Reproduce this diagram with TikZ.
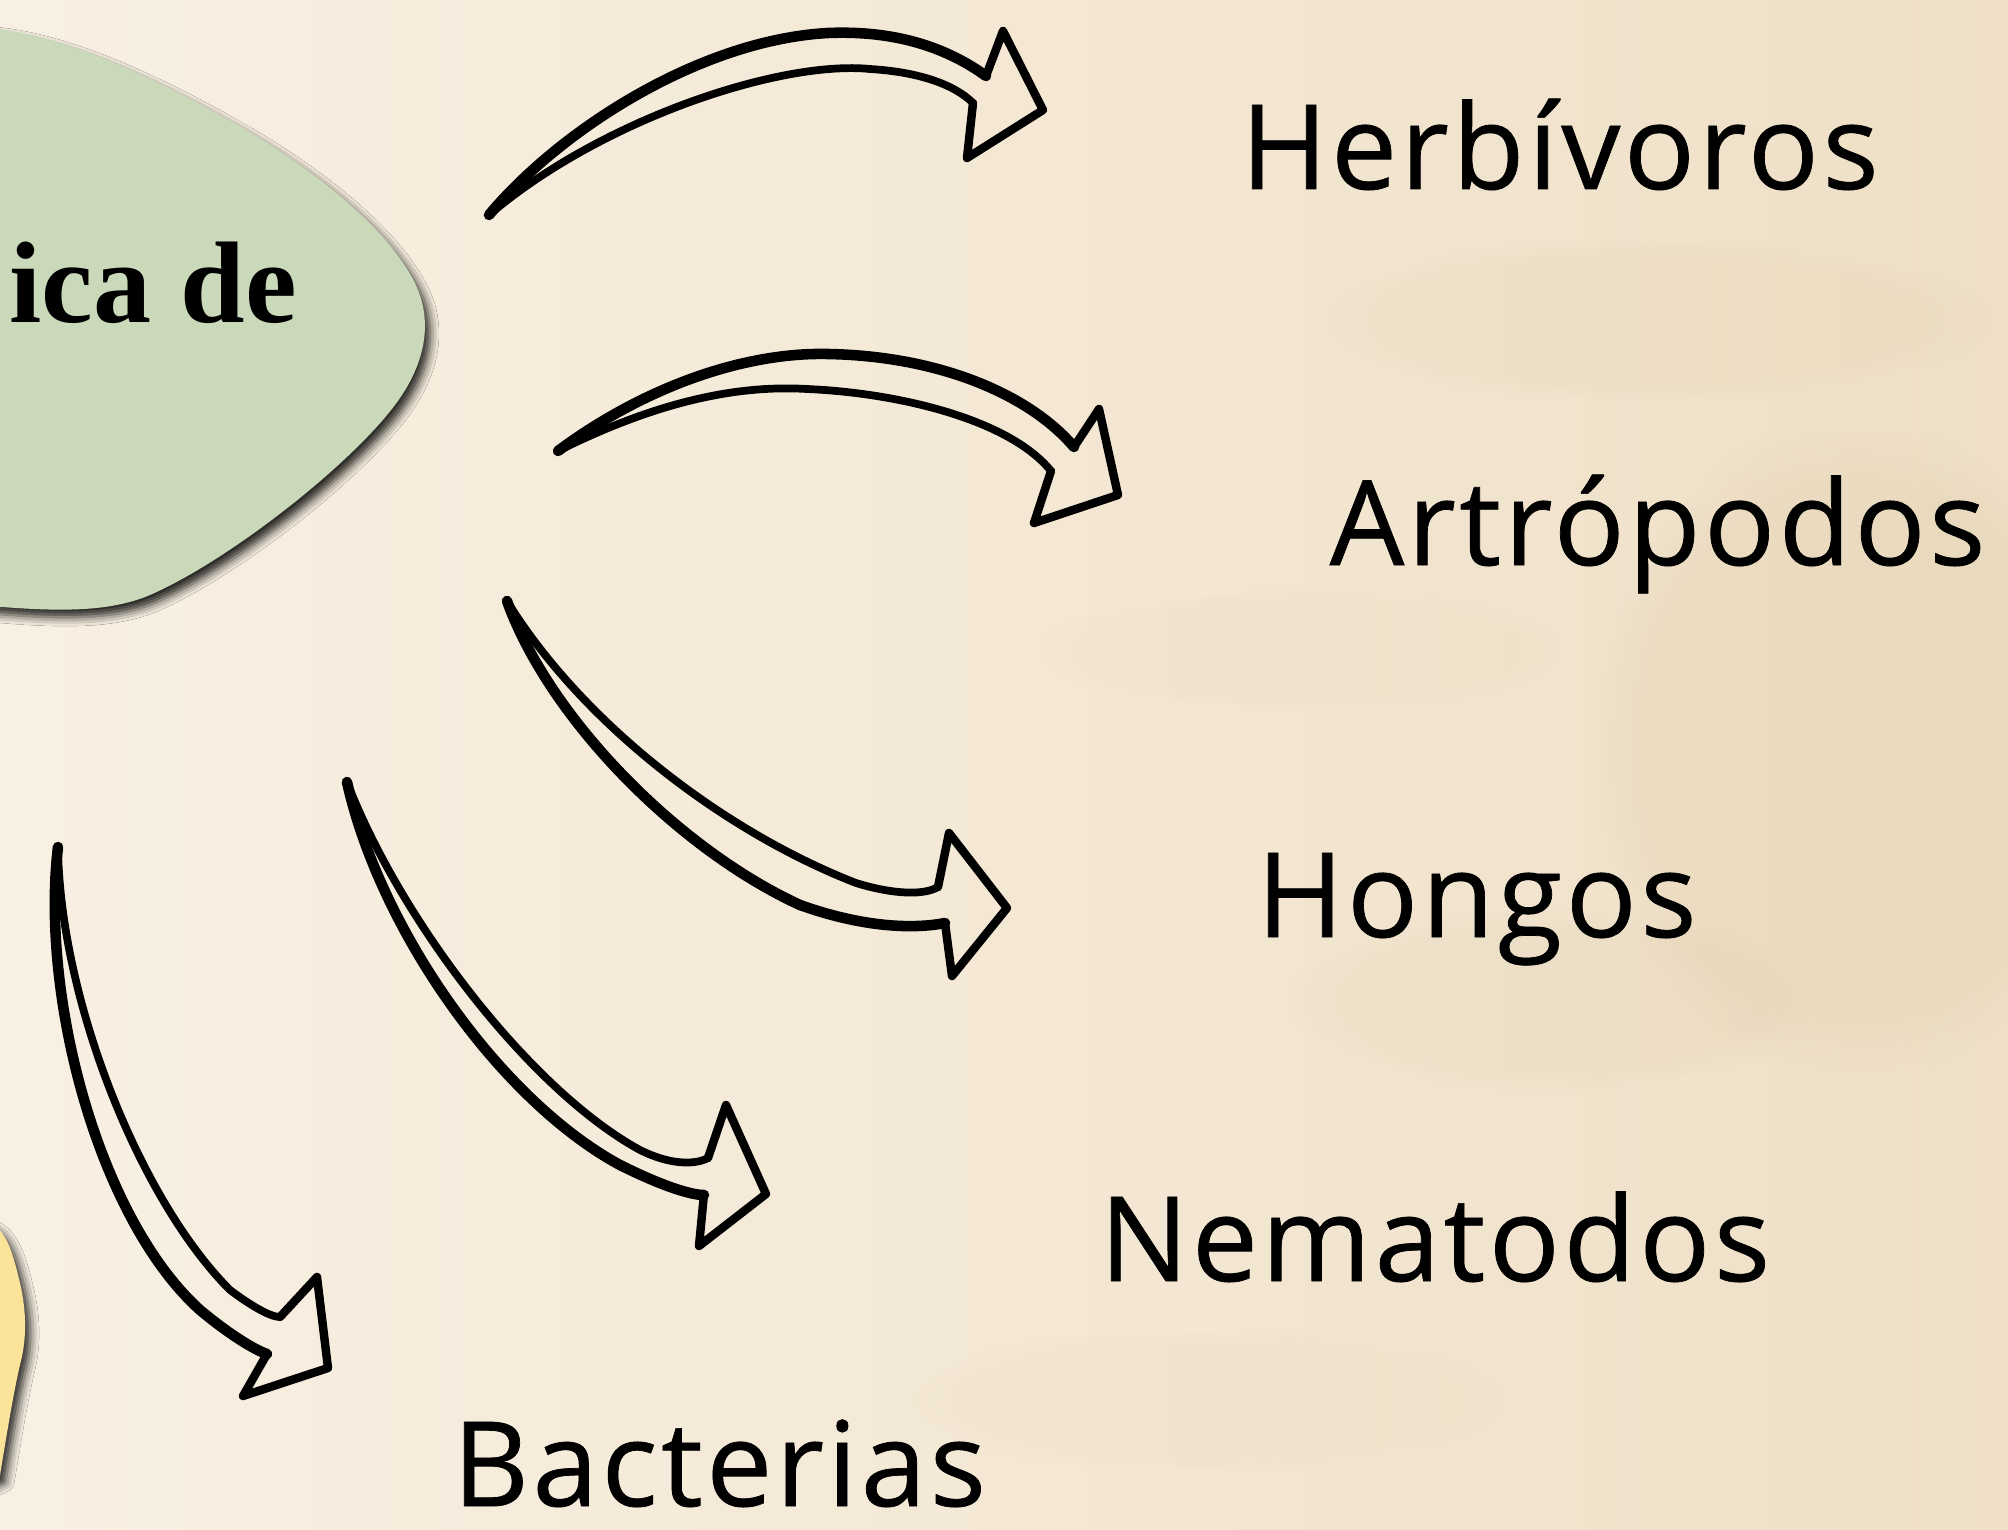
\documentclass[tikz,border=0pt]{standalone}
\usepackage{fontspec}
\setmainfont{Open Sans}[LetterSpace=3, FakeBold=0.6]
\newfontfamily\blobfont{Liberation Serif}
\usetikzlibrary{shadows.blur,fadings}
\definecolor{paperL}{HTML}{F8F0E3}
\definecolor{paperM}{HTML}{F4E8D5}
\definecolor{paperR}{HTML}{EEDFC6}
\definecolor{blotch}{HTML}{D8C49E}
\definecolor{blobgreen}{HTML}{C9D9B9}
\definecolor{blobyellow}{HTML}{FCE39A}
\tikzset{
  lbl/.style={font=\fontsize{33.5}{40}\selectfont, inner sep=0pt, anchor=base west, text=black},
  outerline/.style={line width=3pt, line cap=round, line join=round},
  innerline/.style={line width=2.2pt, line cap=round, line join=round},
  headline/.style={line width=2.4pt, line cap=round, line join=round},
  softshadow/.style={blur shadow={shadow xshift=1.5pt, shadow yshift=-2.2pt, shadow blur radius=2.5pt, shadow opacity=85}},
  patch/.style={fill=blotch, path fading=circle with fuzzy edge 20 percent}
}
\begin{document}
\begin{tikzpicture}[x=0.01cm,y=-0.01cm]
\useasboundingbox (0,0) rectangle (2008,1530);
% paper background
\shade[left color=paperL, right color=paperR, middle color=paperM] (0,0) rectangle (2008,1530);
\fill[patch, opacity=0.2] (1850,750) ellipse (260 and 330);
\fill[patch, opacity=0.12] (1550,1000) ellipse (260 and 90);
\fill[patch, opacity=0.12] (1650,320) ellipse (340 and 80);
\fill[patch, opacity=0.08] (1300,650) ellipse (260 and 60);
\fill[patch, opacity=0.08] (1200,1400) ellipse (300 and 70);

% green blob
\fill[blobgreen, softshadow] (-10,28) .. controls (60,35) and (140,70) .. (232,122)
  .. controls (320,172) and (395,235) .. (418,290)
  .. controls (432,325) and (425,365) .. (395,405)
  .. controls (350,465) and (230,560) .. (150,595)
  .. controls (110,612) and (60,612) .. (-10,606) -- cycle;
\node[font=\blobfont\bfseries\fontsize{33}{38}\selectfont, inner sep=0pt, anchor=base west] (title) at (9,322) {ica de};

% yellow blob
\fill[blobyellow, softshadow] (-10,1222) .. controls (5,1230) and (12,1250) .. (18,1275)
  .. controls (26,1305) and (28,1335) .. (20,1365)
  .. controls (12,1400) and (6,1440) .. (0,1475) -- (-10,1480) -- cycle;

% labels
\node[lbl] (herb) at (1240,189) {Herbívoros};
\node[lbl] (artr) at (1329,565) {Artrópodos};
\node[lbl] (hong) at (1256,937) {Hongos};
\node[lbl] (nema) at (1099,1281) {Nematodos};
\node[lbl] (bact) at (452,1506) {Bacterias};

% arrow tails
\coordinate (t1) at (489,215);
\coordinate (t2) at (558,451);
\coordinate (t3) at (507,601);
\coordinate (t4) at (347,782);
\coordinate (t5) at (58,847);

% arrow 1 -> Herbivoros
\draw[outerline] (t1) .. controls (560,130) and (700,40) .. (828,33) .. controls (900,30) and (950,50) .. (986,76);
\draw[innerline] (t1) .. controls (600,120) and (780,60) .. (870,69) .. controls (920,72) and (955,85) .. (973,103);
\draw[headline] (986,76) -- (1003,31) -- (1043,110) -- (967,158) -- (973,103);

% arrow 2 -> Artropodos
\draw[outerline] (t2) .. controls (640,390) and (740,352) .. (828,354) .. controls (940,356) and (1030,395) .. (1074,447);
\draw[innerline] (t2) .. controls (660,400) and (740,385) .. (807,389) .. controls (900,393) and (1010,420) .. (1051,471);
\draw[headline] (1074,447) -- (1099,409) -- (1118,495) -- (1034,523) -- (1051,471);

% arrow 3 -> Hongos
\draw[outerline] (t3) .. controls (550,720) and (680,850) .. (800,905) .. controls (870,930) and (920,928) .. (945,923);
\draw[innerline] (t3) .. controls (580,720) and (720,830) .. (856,883) .. controls (895,895) and (925,895) .. (938,887);
\draw[headline] (938,887) -- (949,833) -- (1007,908) -- (952,976) -- (945,923);

% arrow 4 -> Nematodos
\draw[outerline] (t4) .. controls (380,930) and (500,1100) .. (620,1165) .. controls (660,1185) and (690,1195) .. (704,1195);
\draw[innerline] (t4) .. controls (400,920) and (530,1090) .. (640,1150) .. controls (670,1165) and (695,1165) .. (708,1158);
\draw[headline] (708,1158) -- (726,1105) -- (766,1194) -- (699,1246) -- (704,1194);

% arrow 5 -> Bacterias
\draw[outerline] (t5) .. controls (40,1000) and (100,1220) .. (200,1310) .. controls (230,1335) and (255,1350) .. (267,1354);
\draw[innerline] (t5) .. controls (60,1000) and (140,1200) .. (230,1290) .. controls (250,1305) and (270,1317) .. (280,1317);
\draw[headline] (280,1317) -- (317,1277) -- (328,1368) -- (243,1396) -- (267,1354);
\end{tikzpicture}
\end{document}
